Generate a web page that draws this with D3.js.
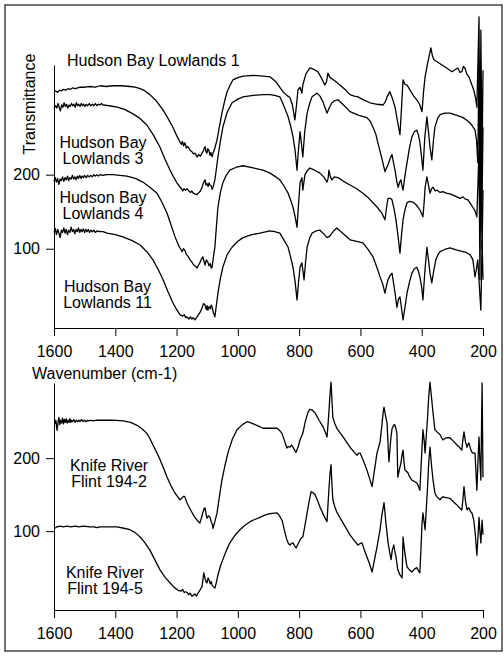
<!DOCTYPE html>
<html>
<head>
<meta charset="utf-8">
<script src="https://d3js.org/d3.v7.min.js"></script>
<style>
  html, body { margin: 0; padding: 0; background: #fff; }
  svg text { font-family: "Liberation Sans", Arial, Helvetica, sans-serif; }
</style>
</head>
<body>
<div id="chart"></div>
<script>
// x tick labels (wavenumber, cm-1)
const xTicks = [1600, 1400, 1200, 1000, 800, 600, 400, 200];
const yTicks = [100, 200];

// [wavenumber, transmittance]
const hbl1 = [[1600,312],[1594,313],[1588,311],[1582,314],[1576,313],[1570,315],[1562,314],[1555,316],[1548,315],[1540,317],[1530,316],[1515,318],[1500,318],[1483,319],[1465,318],[1450,320],[1430,319],[1407,320],[1380,320],[1352,319],[1335,318],[1319,316],[1303,313],[1287,308],[1265,299],[1244,287],[1228,276],[1212,264],[1200,253],[1189,244],[1184,241],[1181,245],[1177,239],[1173,243],[1168,236],[1163,238],[1156,233],[1150,231],[1145,228],[1140,229],[1133,224],[1128,227],[1122,225],[1117,229],[1112,233],[1107,238],[1104,231],[1101,229],[1098,235],[1094,232],[1091,226],[1088,230],[1084,224],[1081,229],[1075,236],[1068,247],[1060,265],[1052,283],[1044,298],[1035,312],[1025,321],[1016,328],[1000,331],[983,333],[950,334],[918,333],[895,332],[875,325],[853,312],[840,307],[830,304],[822,294],[814,274],[808,296],[804,314],[797,318],[791,310],[788,321],[778,336],[765,344],[752,342],[739,339],[728,331],[716,321],[711,325],[706,337],[699,331],[685,327],[667,321],[650,315],[634,308],[620,306],[608,305],[590,301],[569,297],[545,295],[526,294],[518,299],[513,305],[504,312],[495,302],[487,291],[479,272],[471,254],[466,290],[461,328],[455,322],[448,321],[438,314],[426,306],[416,301],[407,295],[399,285],[394,312],[389,332],[380,352],[370,371],[365,360],[360,355],[345,351],[330,347],[315,343],[301,339],[290,342],[282,344],[275,338],[269,339],[264,346],[259,344],[253,336],[246,332],[238,323],[230,314],[224,303],[220,291],[213,413],[210,166],[207,395],[203,220],[200,341]];

const hbl3 = [[1600,289],[1595,293],[1591,290],[1587,296],[1583,291],[1579,286],[1575,294],[1571,291],[1567,297],[1563,292],[1559,295],[1555,290],[1551,294],[1547,292],[1543,296],[1539,293],[1535,295],[1531,291],[1527,297],[1523,293],[1519,295],[1515,292],[1511,296],[1507,293],[1503,295],[1499,292],[1495,295],[1490,293],[1485,296],[1480,293],[1475,295],[1470,293],[1465,296],[1460,293],[1455,295],[1450,294],[1445,296],[1440,294],[1420,293],[1394,291],[1370,288],[1342,282],[1320,276],[1297,267],[1275,253],[1254,237],[1238,221],[1221,206],[1210,197],[1199,189],[1190,184],[1184,181],[1180,178],[1176,181],[1171,179],[1166,181],[1160,178],[1154,176],[1150,178],[1146,175],[1140,174],[1133,173],[1127,176],[1122,178],[1117,183],[1112,189],[1107,193],[1104,186],[1101,188],[1097,184],[1094,189],[1091,186],[1087,185],[1084,180],[1081,183],[1075,193],[1070,208],[1065,224],[1057,245],[1049,264],[1035,284],[1019,297],[1000,302],[983,305],[950,307],[918,308],[895,308],[880,307],[863,305],[850,293],[836,278],[828,266],[820,251],[813,232],[807,206],[802,235],[797,258],[792,240],[788,224],[782,257],[774,283],[765,297],[758,305],[742,310],[732,306],[722,298],[715,290],[709,283],[702,290],[693,297],[684,300],[673,301],[655,294],[634,285],[605,280],[579,277],[568,272],[559,264],[550,255],[543,243],[530,222],[520,204],[515,209],[510,213],[503,222],[497,227],[492,216],[487,206],[481,190],[477,183],[472,190],[468,193],[464,184],[461,179],[455,198],[448,216],[440,236],[432,251],[424,258],[416,260],[411,254],[406,244],[400,222],[396,206],[390,250],[383,278],[378,258],[373,237],[369,226],[367,220],[362,245],[357,264],[348,276],[340,281],[325,283],[308,283],[285,280],[265,277],[255,274],[243,270],[235,266],[226,260],[221,246],[217,216],[213,355],[210,125],[207,274],[203,166],[200,264]];

const hbl4 = [[1600,191],[1596,196],[1592,190],[1588,195],[1584,187],[1580,194],[1576,192],[1572,197],[1568,191],[1564,196],[1560,193],[1556,198],[1552,192],[1548,196],[1544,194],[1540,199],[1536,194],[1532,197],[1528,193],[1524,198],[1520,195],[1516,199],[1512,195],[1508,198],[1504,196],[1500,199],[1495,196],[1490,199],[1485,197],[1480,199],[1475,197],[1470,200],[1465,198],[1460,200],[1455,198],[1450,200],[1440,199],[1430,200],[1407,200],[1385,199],[1362,198],[1335,195],[1310,190],[1287,183],[1264,175],[1248,163],[1231,148],[1218,132],[1205,116],[1193,104],[1186,99],[1182,96],[1178,100],[1173,98],[1168,92],[1163,90],[1156,85],[1150,82],[1144,78],[1138,76],[1133,74],[1128,78],[1124,81],[1119,86],[1114,89],[1110,82],[1107,78],[1103,85],[1098,82],[1094,77],[1090,80],[1087,74],[1084,75],[1080,88],[1075,102],[1070,130],[1065,156],[1057,176],[1049,189],[1038,199],[1026,206],[1005,210],[983,212],[950,209],[918,206],[895,202],[880,198],[863,193],[850,185],[836,175],[828,166],[820,156],[813,143],[807,129],[802,160],[797,189],[791,196],[788,179],[781,200],[772,206],[765,209],[750,206],[732,202],[720,197],[709,190],[705,196],[703,206],[698,197],[693,193],[685,197],[673,196],[655,191],[634,186],[612,181],[592,175],[575,169],[559,162],[545,156],[530,148],[520,139],[515,155],[510,168],[503,168],[497,166],[490,153],[484,139],[477,116],[471,94],[466,118],[461,139],[455,152],[448,162],[440,164],[429,163],[420,160],[412,156],[404,151],[396,143],[392,163],[389,183],[383,197],[378,186],[373,175],[368,181],[363,183],[356,178],[350,179],[340,176],[331,177],[320,175],[308,174],[296,172],[285,170],[275,168],[265,170],[258,167],[249,166],[241,161],[233,156],[226,151],[220,143],[213,233],[210,58],[207,220],[203,98],[200,179]];

const hbl11 = [[1600,122],[1596,127],[1592,119],[1588,126],[1584,121],[1580,115],[1576,125],[1572,122],[1568,128],[1564,121],[1560,126],[1556,119],[1552,125],[1548,122],[1544,129],[1540,123],[1536,126],[1532,120],[1528,126],[1524,123],[1520,128],[1516,122],[1512,126],[1508,123],[1504,127],[1500,122],[1496,126],[1492,123],[1488,126],[1484,122],[1480,125],[1475,123],[1470,125],[1465,122],[1460,124],[1450,123],[1440,123],[1427,121],[1400,119],[1375,116],[1345,111],[1319,105],[1297,96],[1277,85],[1260,72],[1244,58],[1228,42],[1212,27],[1200,18],[1189,11],[1180,9],[1175,11],[1170,7],[1166,8],[1160,5],[1155,8],[1150,5],[1146,7],[1140,4],[1133,8],[1127,12],[1122,15],[1117,20],[1112,26],[1107,24],[1103,18],[1100,23],[1098,17],[1094,22],[1090,19],[1087,24],[1084,21],[1080,14],[1075,8],[1070,24],[1065,40],[1057,60],[1049,75],[1035,92],[1019,102],[1000,110],[983,115],[955,119],[928,121],[895,124],[880,123],[863,121],[850,112],[836,102],[828,89],[820,75],[813,55],[807,31],[802,55],[797,75],[791,81],[784,58],[779,82],[774,102],[766,114],[758,121],[745,124],[732,125],[720,120],[709,115],[700,117],[693,121],[685,125],[677,128],[655,120],[634,112],[612,110],[592,108],[575,99],[559,89],[548,77],[536,62],[527,52],[520,40],[515,50],[510,58],[503,64],[497,67],[492,54],[487,40],[481,21],[476,32],[471,35],[466,20],[461,4],[455,20],[448,40],[440,55],[432,67],[424,73],[416,75],[411,70],[406,62],[400,48],[396,31],[390,68],[383,102],[378,85],[373,67],[367,54],[360,72],[354,85],[347,92],[340,96],[325,99],[308,101],[285,98],[265,96],[255,95],[243,92],[238,89],[233,85],[229,72],[226,62],[221,74],[217,85],[212,50],[207,17],[203,112],[200,58]];

const krf2 = [[1597,247],[1594,252],[1590,238],[1587,249],[1584,256],[1581,246],[1578,252],[1575,248],[1572,255],[1569,247],[1566,253],[1563,249],[1560,254],[1557,248],[1554,252],[1551,249],[1548,254],[1545,249],[1542,252],[1539,250],[1535,253],[1531,249],[1527,252],[1523,250],[1519,252],[1515,250],[1510,253],[1505,250],[1500,252],[1495,250],[1490,252],[1485,251],[1480,252],[1473,251],[1460,252],[1440,252],[1410,252],[1375,251],[1350,249],[1329,245],[1312,240],[1297,234],[1287,227],[1277,218],[1265,208],[1254,198],[1242,186],[1231,174],[1218,162],[1205,152],[1196,147],[1189,143],[1181,146],[1176,148],[1173,147],[1169,142],[1166,139],[1158,132],[1150,126],[1142,120],[1133,115],[1128,113],[1124,111],[1119,118],[1114,126],[1110,131],[1107,132],[1104,124],[1101,118],[1096,121],[1091,119],[1087,113],[1084,110],[1081,104],[1075,113],[1068,125],[1060,148],[1052,170],[1042,190],[1032,208],[1018,226],[1003,239],[985,246],[970,250],[955,248],[938,245],[918,241],[895,241],[872,241],[864,238],[856,234],[848,224],[840,214],[835,216],[830,215],[825,218],[820,215],[815,211],[810,208],[803,216],[797,225],[792,230],[788,234],[780,250],[771,263],[765,267],[757,266],[748,262],[735,252],[722,243],[715,236],[709,229],[706,245],[703,262],[700,283],[696,304],[693,280],[690,256],[684,248],[677,241],[655,228],[634,215],[620,208],[611,204],[606,207],[601,207],[590,196],[579,184],[570,172],[562,161],[554,184],[546,207],[540,216],[536,222],[530,245],[526,262],[523,270],[518,258],[513,248],[510,220],[507,195],[501,226],[497,240],[494,243],[490,246],[487,245],[484,240],[481,234],[478,174],[472,186],[468,193],[464,205],[461,211],[458,196],[455,184],[450,182],[445,180],[440,175],[432,170],[424,168],[416,166],[411,162],[406,156],[402,190],[399,215],[396,239],[392,224],[389,207],[381,255],[377,285],[373,304],[368,283],[363,262],[357,239],[350,236],[340,232],[335,228],[331,225],[320,228],[308,228],[296,223],[285,218],[277,215],[269,211],[266,224],[262,236],[257,222],[252,215],[249,219],[246,221],[241,213],[236,208],[231,207],[226,207],[220,156],[216,200],[213,229],[210,195],[207,170],[203,303],[200,174]];

const krf5 = [[1597,104],[1590,106],[1580,107],[1570,106],[1558,107],[1545,106],[1531,107],[1518,106],[1505,107],[1483,106],[1470,106],[1460,105],[1450,106],[1420,106],[1394,106],[1372,104],[1352,102],[1335,98],[1319,92],[1303,84],[1287,74],[1270,60],[1254,47],[1238,37],[1221,29],[1208,23],[1195,19],[1185,18],[1180,20],[1175,16],[1170,17],[1166,16],[1161,13],[1156,15],[1150,11],[1146,12],[1140,14],[1135,11],[1130,15],[1124,19],[1117,24],[1114,34],[1111,43],[1107,35],[1104,31],[1101,29],[1097,36],[1094,33],[1090,28],[1087,31],[1084,26],[1080,24],[1075,22],[1070,30],[1065,40],[1057,52],[1049,61],[1038,73],[1026,84],[1010,94],[993,102],[977,108],[960,113],[945,116],[928,119],[912,122],[895,124],[872,125],[864,121],[856,115],[848,101],[840,88],[835,83],[830,81],[825,83],[820,84],[815,80],[810,77],[803,83],[797,88],[792,91],[788,92],[781,108],[774,125],[767,142],[761,154],[755,153],[748,150],[740,142],[732,133],[720,122],[709,113],[706,135],[703,156],[700,175],[696,191],[693,165],[690,143],[684,134],[677,126],[655,110],[634,95],[620,87],[608,81],[601,83],[595,84],[587,74],[579,65],[570,55],[562,44],[554,61],[546,78],[541,90],[536,102],[530,122],[523,139],[517,112],[510,85],[505,72],[500,61],[496,74],[491,81],[488,73],[484,65],[481,56],[478,47],[471,40],[464,36],[461,92],[455,70],[448,51],[440,47],[432,44],[424,48],[416,50],[411,46],[406,43],[402,80],[399,111],[396,125],[392,112],[389,102],[381,160],[377,195],[373,215],[368,190],[363,170],[357,152],[350,147],[340,143],[335,146],[331,147],[320,146],[308,145],[296,140],[285,136],[277,132],[269,129],[265,146],[262,161],[257,140],[252,129],[249,131],[246,132],[241,127],[236,125],[230,115],[225,95],[220,67],[216,95],[213,119],[210,100],[207,84],[203,115],[200,95]];

const W = 504, H = 656;
const svg = d3.select('#chart').append('svg')
  .attr('width', W).attr('height', H);

// outer frame
svg.append('rect')
  .attr('x', 5).attr('y', 5).attr('width', 497).attr('height', 646)
  .attr('fill', 'none').attr('stroke', '#444').attr('stroke-width', 1.5);

const x = d3.scaleLinear().domain([1600, 200]).range([54, 483]);
const yTop = d3.scaleLinear().domain([-7, 348]).range([328, 65]);
const yBot = d3.scaleLinear().domain([-8, 303]).range([610, 383]);

function drawPanel(y, series, xAxisY) {
  const gx = svg.append('g')
    .attr('transform', `translate(0,${xAxisY})`)
    .call(d3.axisBottom(x).tickValues(xTicks).tickFormat(d3.format('d'))
      .tickSize(8).tickSizeOuter(0).tickPadding(9.5));
  const gy = svg.append('g')
    .attr('transform', 'translate(54,0)')
    .call(d3.axisLeft(y).tickValues(yTicks).tickSize(8).tickSizeOuter(0).tickPadding(6));
  [gx, gy].forEach(g => {
    g.selectAll('text').attr('font-size', 16).attr('fill', '#000')
      .attr('font-family', '"Liberation Sans", Arial, sans-serif');
    g.selectAll('line, path').attr('stroke', '#000').attr('stroke-width', 1);
  });

  const line = d3.line().x(d => x(d[0])).y(d => y(d[1]));
  series.forEach(s => {
    svg.append('path')
      .attr('d', line(s))
      .attr('fill', 'none')
      .attr('stroke', '#000')
      .attr('stroke-width', 1.3)
      .attr('stroke-linejoin', 'round');
  });
}

drawPanel(yTop, [hbl1, hbl3, hbl4, hbl11], 328);
drawPanel(yBot, [krf2, krf5], 610);

function label(lines, cx, y0, anchor) {
  const t = svg.append('text')
    .attr('font-size', 16).attr('fill', '#000')
    .attr('text-anchor', anchor || 'middle');
  lines.forEach((s, i) => {
    t.append('tspan').attr('x', cx).attr('y', y0 + i * 16).text(s);
  });
}

label(['Hudson Bay Lowlands 1'], 67, 66, 'start');
label(['Hudson Bay', 'Lowlands 3'], 103, 148);
label(['Hudson Bay', 'Lowlands 4'], 103, 203);
label(['Hudson Bay', 'Lowlands 11'], 107.5, 292);
label(['Knife River', 'Flint 194-2'], 109, 471);
label(['Knife River', 'Flint 194-5'], 105, 578);

svg.append('text')
  .attr('transform', 'translate(35,104) rotate(-90)')
  .attr('text-anchor', 'middle')
  .attr('font-size', 16).attr('fill', '#000')
  .text('Transmittance');

svg.append('text')
  .attr('x', 32).attr('y', 379)
  .attr('font-size', 16).attr('fill', '#000')
  .text('Wavenumber (cm-1)');
</script>
</body>
</html>
